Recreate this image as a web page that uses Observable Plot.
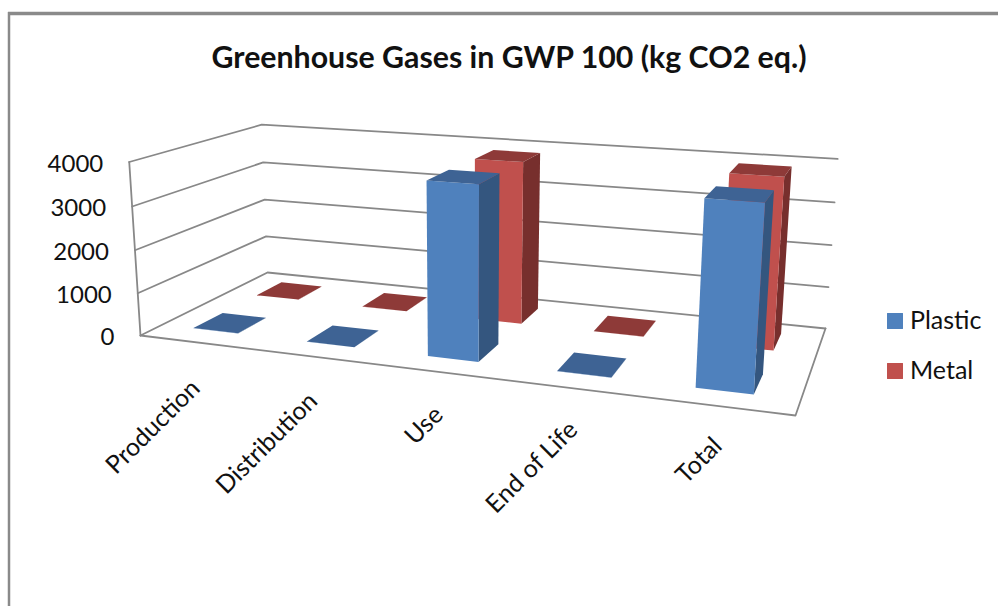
<!DOCTYPE html>
<html><head><meta charset="utf-8">
<script src="https://cdn.jsdelivr.net/npm/d3@7"></script>
<script src="https://cdn.jsdelivr.net/npm/@observablehq/plot@0.6"></script>
<style>html,body{margin:0;padding:0;background:#fff}svg{display:block}</style>
</head><body>
<script>
const title = "Greenhouse Gases in GWP 100 (kg CO2 eq.)";
const categories = ["Production","Distribution","Use","End of Life","Total"];
const plastic = [5,3,3880,5,3920];
const metal = [5,3,3850,5,3900];
const valueTicks = [0,1000,2000,3000,4000];
const seriesNames = ["Plastic","Metal"];
const maxValue = 4000;

// Camera: where the chart box's corners fall on the picture
const floorFL=[140,335], floorFR=[795,415], floorBR=[825,328], floorBL=[267,272];
const topCorners=[[0,0,128,161],[0,1,262,125],[1,1,837,158]];
const W=998,H=606;

function quad(p0,p1,p2,p3){
  const dx1=p1[0]-p2[0],dx2=p3[0]-p2[0],sx=p0[0]-p1[0]+p2[0]-p3[0];
  const dy1=p1[1]-p2[1],dy2=p3[1]-p2[1],sy=p0[1]-p1[1]+p2[1]-p3[1];
  const den=dx1*dy2-dx2*dy1;
  const g=(sx*dy2-dx2*sy)/den,h=(dx1*sy-sx*dy1)/den;
  return {a:p1[0]-p0[0]+g*p1[0],b:p3[0]-p0[0]+h*p3[0],c:p0[0],
          d:p1[1]-p0[1]+g*p1[1],e:p3[1]-p0[1]+h*p3[1],f:p0[1],g,h};
}
const Q=quad(floorFL,floorFR,floorBR,floorBL);
const q=(u,w)=>[Q.a*u+Q.b*w+Q.c,Q.d*u+Q.e*w+Q.f,Q.g*u+Q.h*w+1];
// vertical column of the camera, fitted from the top corners
const rows=topCorners.map(([u,w,tx,ty])=>{const s=q(u,w);return {tx,ty,rx:tx*s[2]-s[0],ry:ty*s[2]-s[1]};});
const mtx=d3.mean(rows,r=>r.tx),mrx=d3.mean(rows,r=>r.rx);
const e3=-d3.sum(rows,r=>(r.tx-mtx)*(r.rx-mrx))/d3.sum(rows,r=>(r.tx-mtx)**2);
const e1=mrx+mtx*e3;
const e2=d3.mean(rows,r=>r.ry+r.ty*e3);
const project=(u,w,v)=>{const s=q(u,w),t=v/maxValue,z=s[2]+e3*t;return [(s[0]+e1*t)/z,(s[1]+e2*t)/z];};

const catCenter=i=>(i+0.5)/categories.length-0.003;
const barHalf=0.04;
const depth={Plastic:[0.15,0.37],Metal:[0.65,0.87]};
const colors={
  Plastic:{front:"#4f81bd",top:"#3e6394",side:"#34567f"},
  Metal:{front:"#c0504d",top:"#8e3a38",side:"#772f2d"}
};

const faces=[];
function addFace(id,color,pts){pts.concat([pts[0]]).forEach(([u,w,v])=>{const [x,y]=project(u,w,v);faces.push({id,color,x,y});});}
[["Metal",metal],["Plastic",plastic]].forEach(([name,vals])=>{
  vals.forEach((v,i)=>{
    const c=catCenter(i),u0=c-barHalf,u1=c+barHalf,[w0,w1]=depth[name],col=colors[name],id=name+i;
    addFace(id+"s",col.side,[[u1,w0,0],[u1,w1,0],[u1,w1,v],[u1,w0,v]]);
    addFace(id+"f",col.front,[[u0,w0,0],[u1,w0,0],[u1,w0,v],[u0,w0,v]]);
    addFace(id+"t",col.top,[[u0,w0,v],[u1,w0,v],[u1,w1,v],[u0,w1,v]]);
  });
});

const grid=valueTicks.flatMap(v=>[[0,0],[0,1],[1,1]].map(([u,w])=>{const [x,y]=project(u,w,v);return {v,x,y};}));
const floorEdge=[[0,0,0],[1,0,0],[1,1,0]].map(([u,w,v])=>{const [x,y]=project(u,w,v);return {x,y};});
const leftAxis=[0,maxValue].map(v=>{const [x,y]=project(0,0,v);return {x,y};});

const tickLabels=valueTicks.map(v=>{const [x,y]=project(0,0,v);return {t:String(v),x:x-26,y:y+2};});
const catLabels=categories.map((t,i)=>{const [x,y]=project(catCenter(i),0,0);return {t,x:x+1,y:y+42-i*1.5};});
const legend=seriesNames.map((t,i)=>({t,i,x:894.5,y:320.5+i*50,color:colors[t].front}));

const font="Lato, Carlito, 'Open Sans', sans-serif", ink="#111";
const chart=Plot.plot({
  width:W,height:H,margin:0,
  style:{background:"#fff",fontFamily:font},
  x:{domain:[0,W],range:[0,W],axis:null},
  y:{domain:[0,H],range:[0,H],axis:null},
  color:{type:"identity"},
  marks:[
    Plot.ruleY([13],{x1:8,x2:W,stroke:"#8a8a8a",strokeWidth:3.5}),
    Plot.ruleX([8.5],{y1:12,y2:H,stroke:"#8a8a8a",strokeWidth:2.5}),
    Plot.line(grid,{x:"x",y:"y",z:"v",stroke:"#888",strokeWidth:1.8}),
    Plot.line(floorEdge,{x:"x",y:"y",stroke:"#888",strokeWidth:1.8}),
    Plot.line(leftAxis,{x:"x",y:"y",stroke:"#888",strokeWidth:1.8}),
    Plot.line(faces,{x:"x",y:"y",z:"id",fill:"color",stroke:null,strokeWidth:0}),
    Plot.text([title],{x:()=>508.5,y:()=>58,text:d=>d,fontSize:30.3,fontWeight:700,fill:ink,textAnchor:"middle"}),
    Plot.text(tickLabels,{x:"x",y:"y",text:"t",fontSize:24,fill:ink,textAnchor:"end"}),
    Plot.text(catLabels,{x:"x",y:"y",text:"t",fontSize:25,fill:ink,textAnchor:"end",rotate:-45}),
    Plot.dot(legend,{x:"x",y:"y",symbol:"square",r:9,fill:"color"}),
    Plot.text(legend,{x:d=>d.x+15,y:"y",text:"t",fontSize:25,fill:ink,textAnchor:"start"})
  ]
});
document.body.appendChild(chart);
</script>
</body></html>
